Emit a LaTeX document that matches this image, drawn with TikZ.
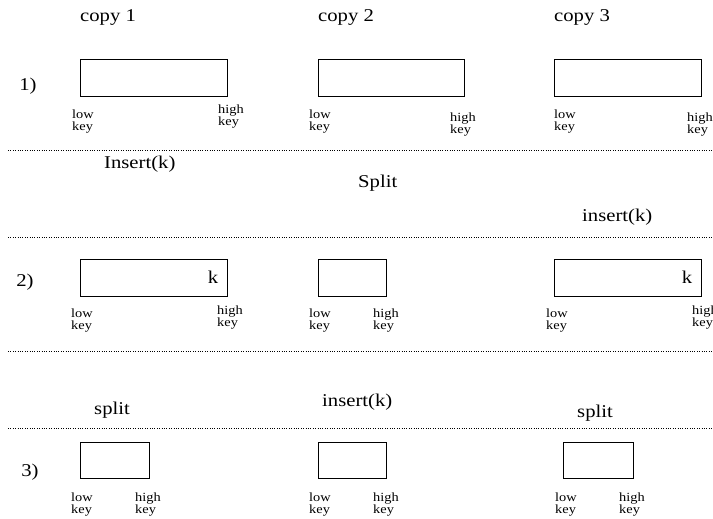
\documentclass[tikz,border=0pt]{standalone}
\usepackage{fontspec}
\setmainfont{Liberation Serif}[FakeStretch=1.15]
\begin{document}
\begin{tikzpicture}[x=1pt, y=-1pt,
  keybox/.style={draw, line width=0.8pt, inner sep=0pt},
  big/.style={font=\fontsize{18}{21}\selectfont, inner sep=0pt},
  keylbl/.style={font=\fontsize{12.5}{12}\selectfont, align=left, inner sep=0pt, anchor=north west},
  sep/.style={line width=0.6pt, dash pattern=on 0.8pt off 1.6pt}]
\useasboundingbox (0,0) rectangle (713,519);

% column headings
\node[big, anchor=base west] (c1) at (80,22) {copy 1};
\node[big, anchor=base west] (c2) at (318,22) {copy 2};
\node[big, anchor=base west] (c3) at (554,22) {copy 3};

% step numbers
\node[big] (s1) at (28,86) {1)};
\node[big] (s2) at (25,282) {2)};
\node[big] (s3) at (30,472) {3)};

% step 1: three full copies
\node[keybox, minimum width=147pt, minimum height=37pt] (a1) at (153.5,77.5) {};
\node[keybox, minimum width=146pt, minimum height=37pt] (a2) at (391,77.5) {};
\node[keybox, minimum width=147pt, minimum height=37pt] (a3) at (627.5,77.5) {};
\node[keylbl] (a1lo) at (72,110) {low\\key};
\node[keylbl] (a1hi) at (218,105) {high\\key};
\node[keylbl] (a2lo) at (309,110) {low\\key};
\node[keylbl] (a2hi) at (450,113) {high\\key};
\node[keylbl] (a3lo) at (554,110) {low\\key};
\node[keylbl] (a3hi) at (687,113) {high\\key};

\coordinate (l1a) at (8,150); \coordinate (l1b) at (712,150);
\draw[sep] (l1a) -- (l1b);

% operations between step 1 and step 2
\node[big, anchor=base west] (op1) at (104,168) {Insert(k)};
\node[big, anchor=base west] (op2) at (358,187) {Split};
\node[big, anchor=base west] (op3) at (582,221) {insert(k)};

\coordinate (l2a) at (8,237); \coordinate (l2b) at (712,237);
\draw[sep] (l2a) -- (l2b);

% step 2
\node[keybox, minimum width=147pt, minimum height=37pt] (b1) at (153.5,277.5) {};
\node[keybox, minimum width=68pt, minimum height=37pt] (b2) at (352,277.5) {};
\node[keybox, minimum width=147pt, minimum height=37pt] (b3) at (627.5,277.5) {};
\node[big] (k1) at (213,277) {k};
\node[big] (k3) at (687,277) {k};
\node[keylbl] (b1lo) at (71,309) {low\\key};
\node[keylbl] (b1hi) at (217,306) {high\\key};
\node[keylbl] (b2lo) at (309,309) {low\\key};
\node[keylbl] (b2hi) at (373,309) {high\\key};
\node[keylbl] (b3lo) at (546,309) {low\\key};
\node[keylbl] (b3hi) at (692,306) {high\\key};

\coordinate (l3a) at (8,351); \coordinate (l3b) at (712,351);
\draw[sep] (l3a) -- (l3b);

% operations between step 2 and step 3
\node[big, anchor=base west] (op4) at (94,414) {split};
\node[big, anchor=base west] (op5) at (322,406) {insert(k)};
\node[big, anchor=base west] (op6) at (577,417) {split};

\coordinate (l4a) at (8,428); \coordinate (l4b) at (712,428);
\draw[sep] (l4a) -- (l4b);

% step 3
\node[keybox, minimum width=69pt, minimum height=36pt] (d1) at (114.5,460) {};
\node[keybox, minimum width=68pt, minimum height=36pt] (d2) at (352,460) {};
\node[keybox, minimum width=70pt, minimum height=36pt] (d3) at (598,460) {};
\node[keylbl] (d1lo) at (71,493) {low\\key};
\node[keylbl] (d1hi) at (135,493) {high\\key};
\node[keylbl] (d2lo) at (309,493) {low\\key};
\node[keylbl] (d2hi) at (373,493) {high\\key};
\node[keylbl] (d3lo) at (555,493) {low\\key};
\node[keylbl] (d3hi) at (619,493) {high\\key};
\end{tikzpicture}
\end{document}
